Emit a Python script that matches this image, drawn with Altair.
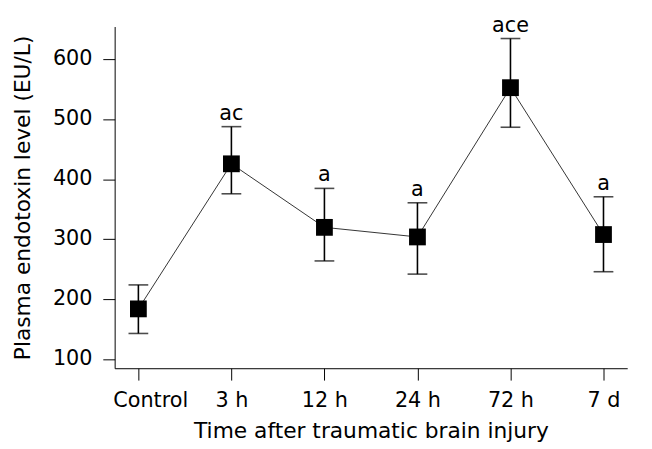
import altair as alt
import pandas as pd

groups = ["Control", "3 h", "12 h", "24 h", "72 h", "7 d"]
means = [184, 426, 320, 304, 553, 308]
upper = [224, 488, 385, 361, 635, 371]
lower = [143, 376, 264, 242, 487, 246]
marks = ["", "ac", "a", "a", "ace", "a"]

df = pd.DataFrame({"group": groups, "mean": means, "upper": upper,
                   "lower": lower, "mark": marks})

FONT = "DejaVu Sans"

x = alt.X("group:N", sort=groups,
          scale=alt.Scale(type="point", padding=0.255),
          axis=alt.Axis(title="Time after traumatic brain injury", labelAngle=0,
                        tickSize=12, labelPadding=10, titlePadding=10,
                        labelFontSize=21, titleFontSize=22,
                        labelOffset={"condition": {"test": "datum.value === 'Control'", "value": 12}, "value": 0}))
y_scale = alt.Scale(domain=[85, 655], nice=False, zero=False)
y = alt.Y("mean:Q", scale=y_scale,
          axis=alt.Axis(title="Plasma endotoxin level (EU/L)", values=[100, 200, 300, 400, 500, 600],
                        tickSize=12, labelPadding=11, titlePadding=18, labelOffset=-1,
                        labelFontSize=21, titleFontSize=22, grid=False))

base = alt.Chart(df)

line = base.mark_line(color="#333333", strokeWidth=1).encode(x=x, y=y)
bars = base.mark_rule(color="black", strokeWidth=1.6).encode(
    x=alt.X("group:N", sort=groups), y=alt.Y("lower:Q", scale=y_scale), y2="upper:Q")
cap_hi = base.mark_tick(color="black", size=20, thickness=1.6).encode(
    x=alt.X("group:N", sort=groups), y=alt.Y("upper:Q", scale=y_scale))
cap_lo = base.mark_tick(color="black", size=20, thickness=1.6).encode(
    x=alt.X("group:N", sort=groups), y=alt.Y("lower:Q", scale=y_scale))
pts = base.mark_point(shape="square", filled=True, size=289, color="black", opacity=1).encode(
    x=alt.X("group:N", sort=groups), y=alt.Y("mean:Q", scale=y_scale))
txt = base.mark_text(font=FONT, fontSize=21, baseline="alphabetic", dy=-7, color="black").encode(
    x=alt.X("group:N", sort=groups), y=alt.Y("upper:Q", scale=y_scale), text="mark:N")

chart = alt.layer(line, bars, cap_hi, cap_lo, pts, txt).properties(
    width=519, height=346,
    autosize=alt.AutoSizeParams(type="none"),
    padding={"left": 108, "top": 16, "right": 17, "bottom": 78},
    background="white",
).configure_view(stroke=None).configure_axis(
    labelFont=FONT, titleFont=FONT, titleFontWeight="normal",
    labelColor="black", titleColor="black", domainColor="black", tickColor="black",
    domainWidth=1, tickWidth=1,
)

chart.save("out.html", embed_options={"renderer": "svg", "actions": False})
